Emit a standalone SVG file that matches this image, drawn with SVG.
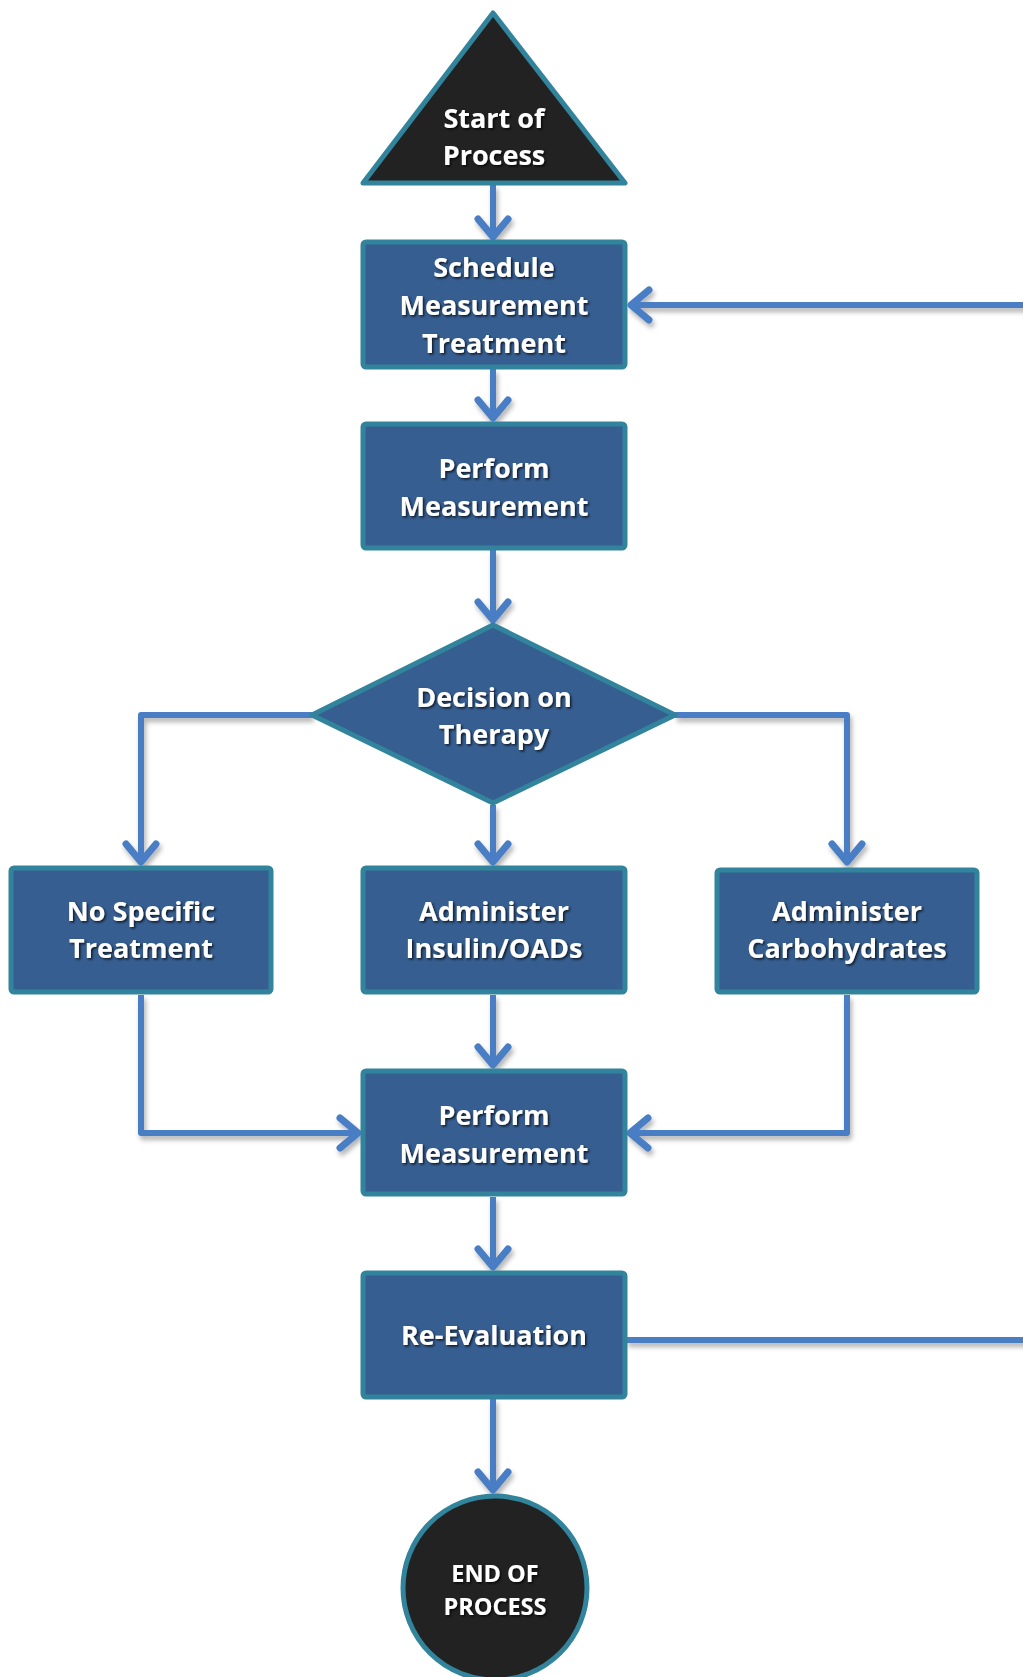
<svg xmlns="http://www.w3.org/2000/svg" width="1023" height="1677" viewBox="0 0 1023 1677">
<defs>
<style>
.box{fill:#365E91;stroke:#31849B;stroke-width:5}
.term{fill:#222222;stroke:#31849B;stroke-width:5}
.conn{fill:none;stroke:#4A7EC4;stroke-width:6;stroke-linejoin:round}
.lbl{font-family:"Open Sans","DejaVu Sans",sans-serif;font-weight:bold;font-size:27px;fill:#ffffff;text-anchor:middle}
.lbl2{font-family:"Open Sans","DejaVu Sans",sans-serif;font-weight:bold;font-size:23.5px;fill:#ffffff;text-anchor:middle}
</style>
<filter id="sh" x="-10%" y="-10%" width="130%" height="130%">
<feDropShadow dx="2" dy="4" stdDeviation="2.5" flood-color="#000" flood-opacity="0.3"/>
</filter>
<filter id="tsh" x="-10%" y="-20%" width="130%" height="150%">
<feDropShadow dx="1.5" dy="1.5" stdDeviation="1.2" flood-color="#000" flood-opacity="0.75"/>
</filter>
<marker id="arr" markerUnits="userSpaceOnUse" markerWidth="40" markerHeight="40" viewBox="-30 -20 40 40" refX="0" refY="0" orient="auto">
<path d="M -19 -15 L -1 0 L -19 15" fill="none" stroke="#4A7EC4" stroke-width="7" stroke-linecap="round" stroke-linejoin="round"/>
</marker>
</defs>

<g id="connectors" filter="url(#sh)">
<path class="conn" d="M493 185 V238" marker-end="url(#arr)"/>
<path class="conn" d="M493 369 V419" marker-end="url(#arr)"/>
<path class="conn" d="M493 550 V621" marker-end="url(#arr)"/>
<path class="conn" d="M312 715 H141 V863" marker-end="url(#arr)"/>
<path class="conn" d="M493 805 V863" marker-end="url(#arr)"/>
<path class="conn" d="M675 715 H847 V863" marker-end="url(#arr)"/>
<path class="conn" d="M141 995 V1133 H359" marker-end="url(#arr)"/>
<path class="conn" d="M493 995 V1066" marker-end="url(#arr)"/>
<path class="conn" d="M847 995 V1133 H629" marker-end="url(#arr)"/>
<path class="conn" d="M493 1197 V1268" marker-end="url(#arr)"/>
<path class="conn" d="M493 1399 V1491" marker-end="url(#arr)"/>
<path class="conn" d="M626 1340 H1040 V305 H630" marker-end="url(#arr)"/>
</g>

<g id="start">
<polygon class="term" points="493,13 625,183 363,183" stroke-linejoin="round"/>
<g filter="url(#tsh)"><text class="lbl" x="494" y="128">Start of</text><text class="lbl" x="494" y="165">Process</text></g>
</g>

<g id="schedule">
<rect class="box" x="363" y="242" width="262" height="125" rx="3"/>
<g filter="url(#tsh)"><text class="lbl" x="494" y="277">Schedule</text><text class="lbl" x="494" y="315">Measurement</text><text class="lbl" x="494" y="353">Treatment</text></g>
</g>

<g id="perform1">
<rect class="box" x="363" y="424" width="262" height="124" rx="3"/>
<g filter="url(#tsh)"><text class="lbl" x="494" y="478">Perform</text><text class="lbl" x="494" y="516">Measurement</text></g>
</g>

<g id="decision">
<polygon class="box" points="493,625 675,715 493,803 312,715" stroke-linejoin="round"/>
<g filter="url(#tsh)"><text class="lbl" x="494" y="707">Decision on</text><text class="lbl" x="494" y="744">Therapy</text></g>
</g>

<g id="nospecific">
<rect class="box" x="11" y="868" width="260" height="124" rx="3"/>
<g filter="url(#tsh)"><text class="lbl" x="141" y="921">No Specific</text><text class="lbl" x="141" y="958">Treatment</text></g>
</g>

<g id="insulin">
<rect class="box" x="363" y="868" width="262" height="124" rx="3"/>
<g filter="url(#tsh)"><text class="lbl" x="494" y="921">Administer</text><text class="lbl" x="494" y="958">Insulin/OADs</text></g>
</g>

<g id="carbs">
<rect class="box" x="717" y="870" width="260" height="122" rx="3"/>
<g filter="url(#tsh)"><text class="lbl" x="847" y="921">Administer</text><text class="lbl" x="847" y="958">Carbohydrates</text></g>
</g>

<g id="perform2">
<rect class="box" x="363" y="1071" width="262" height="123" rx="3"/>
<g filter="url(#tsh)"><text class="lbl" x="494" y="1125">Perform</text><text class="lbl" x="494" y="1163">Measurement</text></g>
</g>

<g id="reevaluation">
<rect class="box" x="363" y="1273" width="262" height="124" rx="3"/>
<g filter="url(#tsh)"><text class="lbl" x="494" y="1345">Re-Evaluation</text></g>
</g>

<g id="end">
<circle class="term" cx="495" cy="1588" r="92"/>
<g filter="url(#tsh)"><text class="lbl2" x="495" y="1582">END OF</text><text class="lbl2" x="495" y="1615">PROCESS</text></g>
</g>
</svg>
